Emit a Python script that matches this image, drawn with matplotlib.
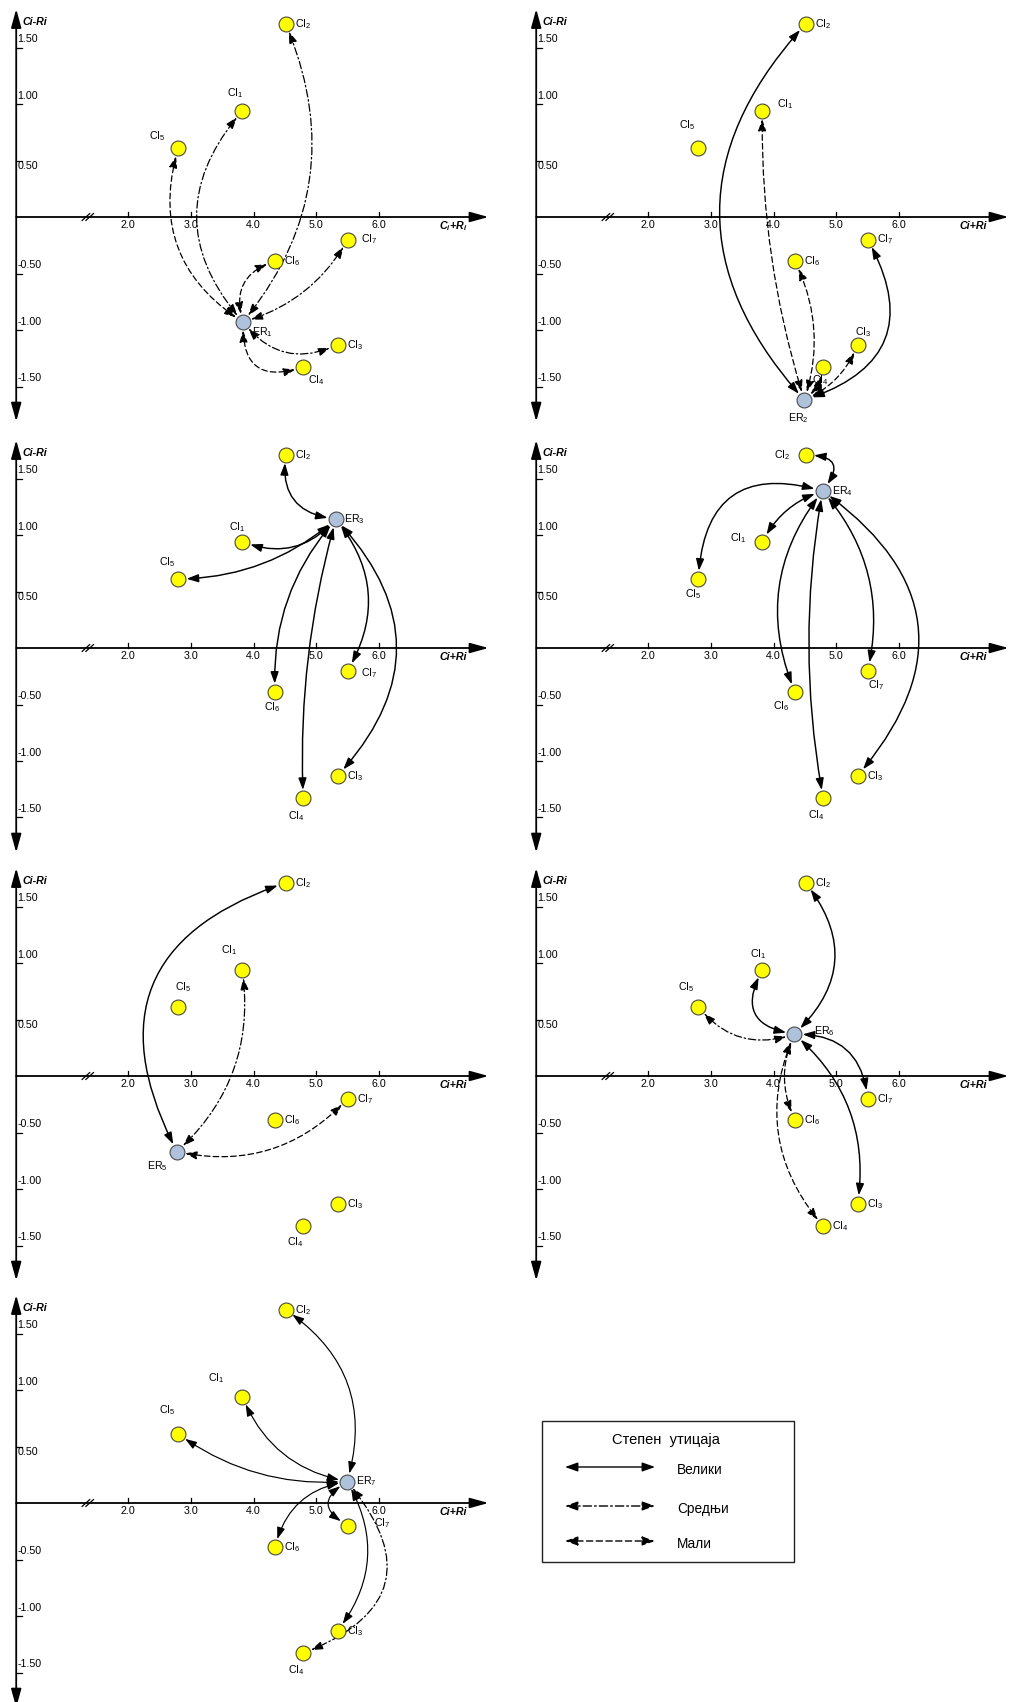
import matplotlib

matplotlib.use('Agg')
import matplotlib.pyplot as plt
from matplotlib.patches import FancyArrowPatch, Rectangle

plt.rcParams['font.family'] = ['Liberation Sans', 'DejaVu Sans']

# --- Данные: положение критеријума (CI) и ризика (ER) ---
CI_X = [3.82, 4.51, 5.34, 4.79, 2.80, 4.34, 5.50]
CI_Y = [0.94, 1.71, -1.13, -1.33, 0.61, -0.39, -0.20]
ER_X = [3.83, 4.49, 5.31, 4.78, 2.78, 4.33, 5.49]
ER_Y = [-0.93, -1.62, 1.14, 1.39, -0.67, 0.37, 0.19]

X_TICKS = [2.0, 3.0, 4.0, 5.0, 6.0]
Y_TICKS = [1.5, 1.0, 0.5, -0.5, -1.0, -1.5]

LEVELS = ['Велики', 'Средњи', 'Мали']
LEGEND_TITLE = 'Степен  утицаја'

# везе (CI број, степен утицаја: 0 велики, 1 средњи, 2 мали)
LINKS_ER1 = [(5, 2), (1, 1), (2, 1), (6, 2), (7, 1), (3, 1), (4, 2)]
LINKS_ER2 = [(2, 0), (1, 2), (6, 2), (4, 2), (3, 2), (7, 0)]
LINKS_ER3 = [(2, 0), (1, 0), (5, 0), (6, 0), (4, 0), (7, 0), (3, 0)]
LINKS_ER4 = [(2, 0), (5, 0), (1, 0), (6, 0), (4, 0), (7, 0), (3, 0)]
LINKS_ER5 = [(2, 0), (1, 1), (7, 2)]
LINKS_ER6 = [(2, 0), (1, 0), (5, 1), (6, 2), (4, 2), (7, 0), (3, 0)]
LINKS_ER7 = [(2, 0), (1, 0), (5, 0), (6, 0), (7, 0), (3, 0), (4, 1)]
LINKS = [LINKS_ER1, LINKS_ER2, LINKS_ER3, LINKS_ER4, LINKS_ER5, LINKS_ER6, LINKS_ER7]

# --- Изглед ---
# закривљеност лукова (arc3 rad), истим редом као везе
RADS = [
    [-0.37, -0.43, 0.30, -0.48, 0.20, 0.39, 0.70],
    [-0.45, -0.08, 0.20, 0.20, 0.20, 0.60],
    [-0.50, -0.34, -0.18, 0.20, 0.08, -0.34, -0.46],
    [1.00, 0.62, 0.20, 0.29, 0.09, -0.25, -0.54],
    [-0.58, 0.26, 0.28],
    [0.45, -0.70, -0.34, 0.23, 0.31, -0.45, -0.27],
    [0.36, -0.27, -0.18, 0.33, 0.85, -0.33, -0.69],
]
LINE_STYLES = ['-', (0, (6, 2.2, 1.2, 2.2)), (0, (4.5, 2.5))]

# помераји ознака у пикселима (dx, dy надоле, ha); подразумевано десно од тачке
DEFAULT_OFF = (9, 0, 'left')
LABEL_OFF = [
    {1: (-7, -18, 'center'), 5: (-21, -12, 'center'), 4: (13, 13, 'center'), 7: (13, 0, 'left'),
     'ER': (9, 10, 'left')},
    {1: (15, -7, 'left'), 5: (-11, -23, 'center'), 3: (6, -13, 'center'), 4: (-3, 13, 'center'),
     'ER': (-6, 18, 'center')},
    {1: (-5, -15, 'center'), 5: (-11, -17, 'center'), 6: (-3, 15, 'center'), 7: (13, 3, 'left'),
     4: (-7, 18, 'center'), 'ER': (8, 0, 'left')},
    {2: (-23, 0, 'center'), 5: (-5, 15, 'center'), 1: (-24, -4, 'center'), 6: (-14, 14, 'center'),
     7: (8, 15, 'center'), 4: (-7, 17, 'center'), 'ER': (9, 0, 'left')},
    {1: (-13, -20, 'center'), 5: (5, -20, 'center'), 4: (-8, 16, 'center'), 'ER': (-20, 14, 'center')},
    {1: (-4, -16, 'center'), 5: (-12, -20, 'center'), 'ER': (20, -3, 'left')},
    {1: (-26, -19, 'center'), 5: (-11, -24, 'center'), 7: (34, -3, 'center'), 4: (-7, 17, 'center'),
     'ER': (9, 0, 'left')},
]

FIG_W, FIG_H, DPI = 1009, 1702, 100
COL_X0 = [128, 648]            # пиксел где је x = 2.0
ROW_Y0 = [217, 648, 1076, 1503]  # пиксел где је y = 0
COL_BOX = [(0, 510), (512, 1009)]
PX_X, PX_Y = 62.8, 113.0
AXIS_X = 0.22
BREAK_X = 1.36

TICK_FS = 7.7
LABEL_FS = 7.7


def draw_frame(ax, panel_idx):
    arrow_kw = dict(color='black', lw=1.3, shrinkA=0, shrinkB=0, mutation_scale=14)
    ax.annotate('', xy=(AXIS_X, 1.84), xytext=(AXIS_X, -1.81),
                arrowprops=dict(arrowstyle='<|-|>,head_length=0.8,head_width=0.22', **arrow_kw))
    ax.annotate('', xy=(7.74, 0), xytext=(AXIS_X, 0),
                arrowprops=dict(arrowstyle='-|>,head_length=0.8,head_width=0.22', **arrow_kw))

    # прекид осе
    for dx in (-0.03, 0.03):
        ax.plot([BREAK_X + dx - 0.06, BREAK_X + dx + 0.06], [-0.03, 0.03], color='black', lw=0.9)

    for xt in X_TICKS:
        ax.plot([xt, xt], [0, 0.045], color='black', lw=0.9)
        ax.text(xt, -0.07, f'{xt:.1f}', ha='center', va='center', fontsize=TICK_FS)
    for yt in Y_TICKS:
        ax.plot([AXIS_X, AXIS_X + 0.09], [yt, yt], color='black', lw=0.9)
        shift = -0.05 if yt == 0.5 else 0.075
        ax.text(AXIS_X + 0.02, yt + shift, f'{yt:.2f}', ha='left', va='center', fontsize=TICK_FS)

    ax.text(AXIS_X + 0.1, 1.73, 'Ci-Ri', ha='left', va='center', fontsize=LABEL_FS,
            fontweight='bold', fontstyle='italic')
    xlab = r'C$_\mathregular{i}$+R$_\mathregular{i}$' if panel_idx == 0 else 'Ci+Ri'
    ax.text(7.40, -0.08, xlab, ha='right', va='center', fontsize=LABEL_FS,
            fontweight='bold', fontstyle='italic')


def put_label(ax, x, y, text, off):
    dx, dy, ha = off
    ax.annotate(text, xy=(x, y), xytext=(dx, -dy), textcoords='offset pixels',
                ha=ha, va='center', fontsize=LABEL_FS, zorder=6)


fig = plt.figure(figsize=(FIG_W / DPI, FIG_H / DPI), dpi=DPI)

for k in range(7):
    row, col = divmod(k, 2)
    ox, oy = COL_X0[col], ROW_Y0[row]
    left, right = COL_BOX[col]
    top, bottom = max(oy - 217, 0), min(oy + 213, FIG_H)
    ax = fig.add_axes([left / FIG_W, 1 - bottom / FIG_H, (right - left) / FIG_W, (bottom - top) / FIG_H])
    ax.set_xlim(2 + (left - ox) / PX_X, 2 + (right - ox) / PX_X)
    ax.set_ylim((oy - bottom) / PX_Y, (oy - top) / PX_Y)
    ax.axis('off')

    draw_frame(ax, k)

    er = (ER_X[k], ER_Y[k])
    for (ci, level), rad in zip(LINKS[k], RADS[k]):
        lw = 0.85 if k == 6 else 1.05
        if level > 0:
            lw = 0.9
        arr = FancyArrowPatch(er, (CI_X[ci - 1], CI_Y[ci - 1]),
                              arrowstyle='<|-|>,head_length=0.7,head_width=0.24',
                              connectionstyle=f'arc3,rad={rad}', mutation_scale=10,
                              linestyle=LINE_STYLES[level], lw=lw, color='black',
                              shrinkA=6, shrinkB=6, zorder=3)
        ax.add_patch(arr)

    ax.scatter(CI_X, CI_Y, s=115, c='#FFFF00', edgecolors='#4a4a3a', linewidths=0.8, zorder=4)
    ax.scatter([ER_X[k]], [ER_Y[k]], s=115, c='#AFC2DC', edgecolors='#4a4a4a', linewidths=0.8, zorder=4)

    offs = LABEL_OFF[k]
    for i in range(7):
        put_label(ax, CI_X[i], CI_Y[i], r'CI$_\mathregular{%d}$' % (i + 1), offs.get(i + 1, DEFAULT_OFF))
    put_label(ax, ER_X[k], ER_Y[k], r'ER$_\mathregular{%d}$' % (k + 1), offs.get('ER', DEFAULT_OFF))

# --- Легенда ---
lax = fig.add_axes([0, 0, 1, 1])
lax.set_xlim(0, FIG_W)
lax.set_ylim(FIG_H, 0)
lax.axis('off')
lax.add_patch(Rectangle((542, 1421), 252, 141, fill=False, edgecolor='#222222', lw=1.0))
lax.text(666, 1440, LEGEND_TITLE, ha='center', va='center', fontsize=10.5)
for i, name in enumerate(LEVELS):
    yy = [1467, 1506, 1541][i]
    lax.add_patch(FancyArrowPatch((565, yy), (655, yy), arrowstyle='<|-|>,head_length=0.7,head_width=0.25',
                                  mutation_scale=11, linestyle=LINE_STYLES[i], lw=1.0, color='black',
                                  shrinkA=0, shrinkB=0))
    lax.text(677, yy + 3, name, ha='left', va='center', fontsize=9.8)

fig.savefig('out.png', dpi=DPI)
